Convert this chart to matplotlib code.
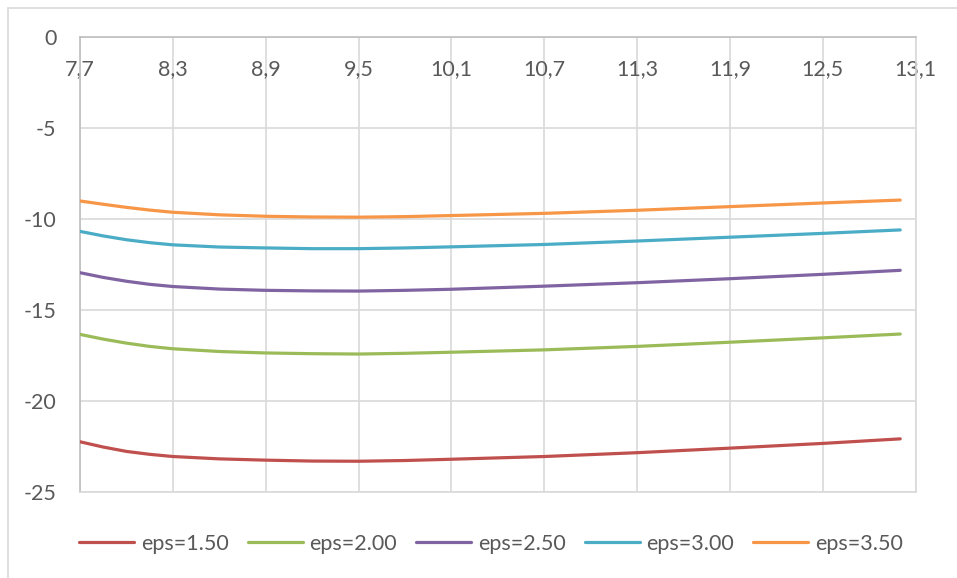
import matplotlib.pyplot as plt
from matplotlib.patches import Rectangle

# values
x = [7.7, 7.85, 8.0, 8.15, 8.3, 8.6, 8.9, 9.2, 9.5, 9.8, 10.1, 10.7, 11.3, 11.9, 12.5, 13.0]
eps_150 = [-22.24, -22.53, -22.77, -22.93, -23.05, -23.18, -23.25, -23.30, -23.31, -23.27, -23.20, -23.05, -22.84, -22.59, -22.33, -22.08]
eps_200 = [-16.34, -16.60, -16.82, -17.00, -17.13, -17.28, -17.36, -17.40, -17.42, -17.38, -17.32, -17.19, -17.00, -16.77, -16.53, -16.32]
eps_250 = [-12.95, -13.21, -13.42, -13.59, -13.71, -13.85, -13.92, -13.95, -13.96, -13.92, -13.86, -13.69, -13.50, -13.28, -13.04, -12.82]
eps_300 = [-10.68, -10.93, -11.14, -11.30, -11.42, -11.54, -11.59, -11.63, -11.63, -11.59, -11.53, -11.40, -11.21, -11.00, -10.79, -10.60]
eps_350 = [-9.01, -9.19, -9.36, -9.51, -9.63, -9.77, -9.85, -9.89, -9.90, -9.87, -9.81, -9.69, -9.52, -9.32, -9.12, -8.96]

labels = ["eps=1.50", "eps=2.00", "eps=2.50", "eps=3.00", "eps=3.50"]
colors = ["#C0504D", "#9BBB59", "#8064A2", "#4BACC6", "#F79646"]
series = [eps_150, eps_200, eps_250, eps_300, eps_350]

xticks = [7.7, 8.3, 8.9, 9.5, 10.1, 10.7, 11.3, 11.9, 12.5, 13.1]
yticks = [0, -5, -10, -15, -20, -25]

txt = "#595959"
grid_c = "#D9D9D9"
fs = 15.5
plt.rcParams["font.family"] = ["Lato", "DejaVu Sans"]

fig = plt.figure(figsize=(9.57, 5.78), dpi=100)
fig.patches.append(Rectangle((8 / 957, -0.01), 1.0, 1 - 8 / 578 + 0.01, transform=fig.transFigure,
                             fill=False, edgecolor=grid_c, linewidth=1.2))

ax = fig.add_axes([80 / 957, 1 - 492 / 578, 835.7 / 957, 455 / 578])

for ys, lab, c in zip(series, labels, colors):
    ax.plot(x, ys, color=c, linewidth=2.3, label=lab, solid_capstyle="round", zorder=3)

ax.set_xlim(7.7, 13.1)
ax.set_ylim(-25, 0)
ax.set_xticks(xticks)
ax.set_xticklabels([f"{v:.1f}".replace(".", ",") for v in xticks])
ax.set_yticks(yticks)
ax.set_yticklabels([str(v) for v in yticks])
ax.grid(True, color=grid_c, linewidth=1.2, zorder=0)
ax.set_axisbelow(True)

ax.tick_params(axis="x", bottom=False, labelbottom=False, top=False, labeltop=True,
               length=0, pad=-30, labelsize=fs, labelcolor=txt)
ax.tick_params(axis="y", length=0, pad=17, labelsize=fs, labelcolor=txt)

ax.spines["left"].set_color("#BFBFBF")
ax.spines["top"].set_color("#BFBFBF")
ax.spines["right"].set_color(grid_c)
ax.spines["bottom"].set_color(grid_c)
for s in ax.spines.values():
    s.set_linewidth(1.2)

fig.legend(loc="center", bbox_to_anchor=(491 / 957, 1 - 544 / 578), ncol=5, frameon=False,
           fontsize=fs, labelcolor=txt, handlelength=2.55, handletextpad=0.3,
           columnspacing=0.9)

fig.savefig("out.png", dpi=100)
